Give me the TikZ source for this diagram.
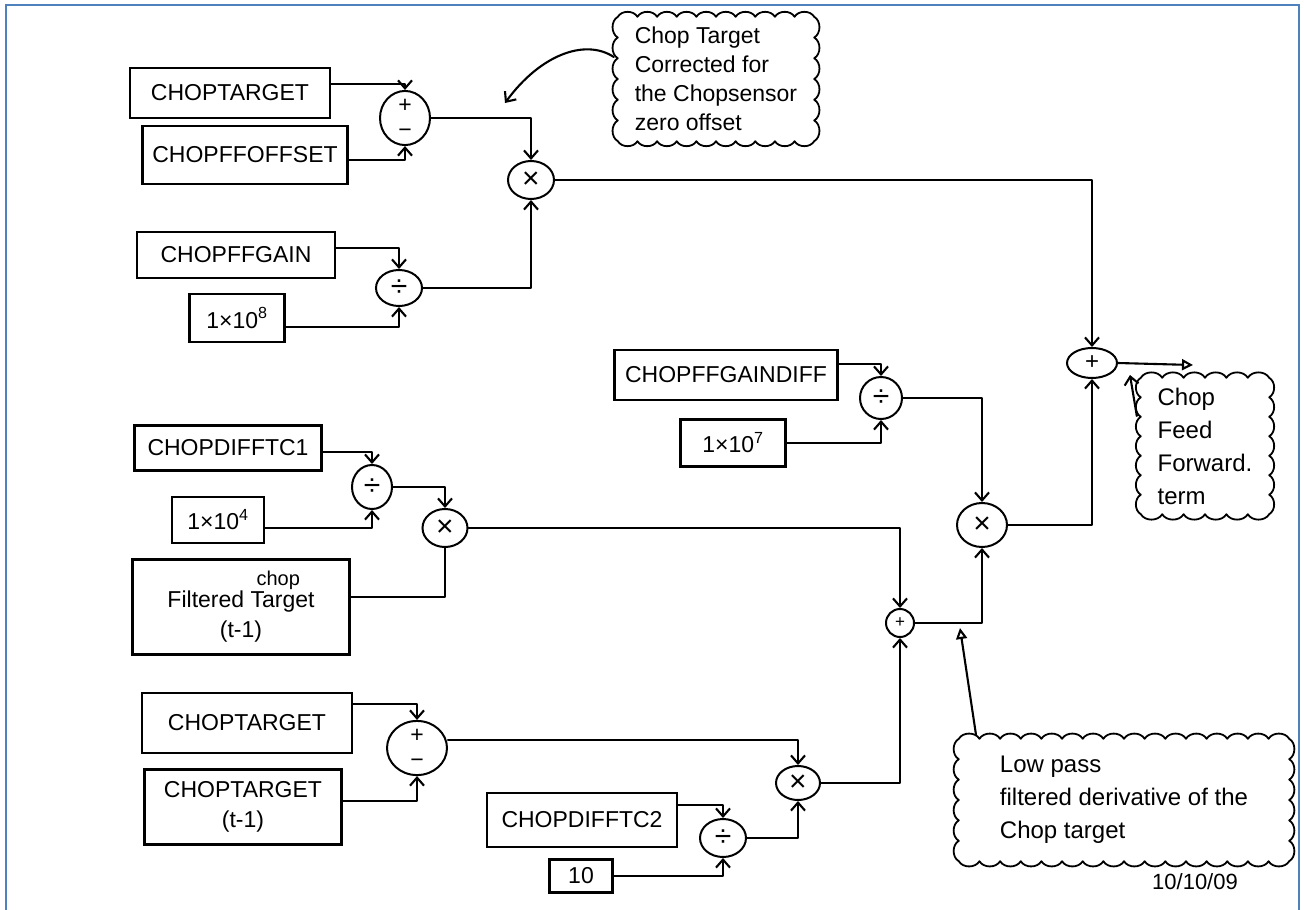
\documentclass[tikz,border=0pt]{standalone}
\usepackage{fontspec}
\setmainfont{Liberation Sans}
\usetikzlibrary{shapes.geometric,arrows.meta,calc}
\definecolor{borderblue}{RGB}{79,129,189}

% scalloped outline round a rectangular note node: #1 node, #2 bumps across, #3 bumps down
\newcommand\notecloud[3]{%
  \draw[noteline] (#1.north west)
    foreach \i in {1,...,#2} { to[bend left=60] ($(#1.north west)!\i/#2!(#1.north east)$) }
    foreach \i in {1,...,#3} { to[bend left=60] ($(#1.north east)!\i/#3!(#1.south east)$) }
    foreach \i in {1,...,#2} { to[bend left=60] ($(#1.south east)!\i/#2!(#1.south west)$) }
    foreach \i in {1,...,#3} { to[bend left=60] ($(#1.south west)!\i/#3!(#1.north west)$) };
}

\begin{document}
\begin{tikzpicture}[x=1pt,y=-1pt,
  wire/.style={line width=2.1pt, black, line cap=round, line join=round},
  feed/.style={wire, -{Straight Barb[length=8pt,width=14pt]}},
  pointer/.style={wire, -{Triangle[open,length=11pt,width=11pt]}},
  varbox/.style={draw, line width=2.1pt, rectangle, inner sep=2pt, align=center,
    font=\fontsize{23}{30}\selectfont},
  op/.style={draw, line width=2pt, ellipse, inner sep=0pt, align=center,
    font=\fontsize{30}{30}\selectfont},
  pm/.style={op, font=\fontsize{23}{25}\selectfont},
  note/.style={rectangle, inner sep=4pt, align=left},
  noteline/.style={line width=1.8pt, line join=round},
]
\useasboundingbox (0,0) rectangle (1304,910);

% frame
\draw[line width=2.8pt, borderblue] (6,915) -- (6,5) -- (1299,5) -- (1299,915);

% ---- feed-forward gain branch ----
\node[varbox, minimum width=200pt, minimum height=50pt] (ct1)  at (230,93)  {CHOPTARGET};
\node[varbox, minimum width=205pt, minimum height=58pt] (cffo) at (245,155) {CHOPFFOFFSET};
\node[pm, minimum width=50pt, minimum height=48pt] (s1) at (405,118) {+\\−};
\node[op, minimum width=46pt, minimum height=38pt] (m1) at (531,180) {×};

\node[varbox, minimum width=198pt, minimum height=46pt] (cffg) at (236,255) {CHOPFFGAIN};
\node[varbox, minimum width=95pt,  minimum height=48pt] (e8)   at (237,318) {1×10\textsuperscript{8}};
\node[op, minimum width=46pt, minimum height=36pt] (d1) at (399,288) {÷};

% ---- output sum ----
\node[op, minimum width=50pt, minimum height=30pt, font=\fontsize{24}{24}\selectfont] (ctr) at (1092,363) {+};

% ---- derivative gain branch ----
\node[varbox, minimum width=223pt, minimum height=50pt] (cffgd) at (726,375) {CHOPFFGAINDIFF};
\node[varbox, minimum width=105pt, minimum height=47pt] (e7)    at (733,443) {1×10\textsuperscript{7}};
\node[op, minimum width=42pt, minimum height=42pt] (d2) at (881,398) {÷};
\node[op, minimum width=50pt, minimum height=44pt] (m2) at (982,525) {×};
\node[op, circle, minimum size=28pt, font=\fontsize{17}{17}\selectfont] (s3) at (900,623) {+};

% ---- filter state branch ----
\node[varbox, minimum width=187pt, minimum height=45pt] (cdtc1) at (228,448) {CHOPDIFFTC1};
\node[varbox, minimum width=92pt,  minimum height=46pt] (e4)    at (218,520) {1×10\textsuperscript{4}};
\node[op, minimum width=40pt, minimum height=44pt] (d3) at (372,487) {÷};
\node[op, minimum width=45pt, minimum height=38pt] (m3) at (445,528) {×};
\node[varbox, minimum width=217pt, minimum height=95pt] (fct) at (241,607)
  {Filtered \rlap{\raisebox{0.95em}{\fontsize{20}{20}\selectfont\hspace{0.3em}chop}}Target\\(t-1)};

% ---- target difference branch ----
\node[varbox, minimum width=210pt, minimum height=60pt] (ct2)  at (247,723) {CHOPTARGET};
\node[varbox, minimum width=197pt, minimum height=75pt] (ctm1) at (243,807) {CHOPTARGET\\(t-1)};
\node[pm, minimum width=60pt, minimum height=53pt] (s2) at (417,748) {+\\−};
\node[op, minimum width=44pt, minimum height=34pt] (m4) at (798,783) {×};
\node[varbox, minimum width=190pt, minimum height=54pt] (cdtc2) at (582,820) {CHOPDIFFTC2};
\node[varbox, minimum width=63pt,  minimum height=33pt] (ten)   at (581,876) {10};
\node[op, minimum width=46pt, minimum height=38pt] (d4) at (723,838) {÷};

% ---- notes ----
\node[note, minimum width=196pt, minimum height=124pt, font=\fontsize{23}{29}\selectfont]
  (cl1) at (716,79) {Chop Target\\Corrected for\\the Chopsensor\\zero offset};
\notecloud{cl1}{10}{6}
\node[note, minimum width=128pt, minimum height=136pt, font=\fontsize{24}{33}\selectfont]
  (cl3) at (1205,446) {Chop\\Feed\\Forward.\\term};
\notecloud{cl3}{6}{7}
\node[note, minimum width=330pt, minimum height=122pt, font=\fontsize{24}{33}\selectfont]
  (cl2) at (1124,800) {Low pass\\filtered derivative of the\\Chop target};
\notecloud{cl2}{16}{6}

\node[font=\fontsize{22}{22}\selectfont] (date) at (1195,882) {10/10/09};

% ---- connections ----
\draw[feed] ([yshift=9pt]ct1.east)   -| (s1.north);
\draw[feed] ([yshift=-5pt]cffo.east) -| (s1.south);
\draw[feed] (s1.east) -| (m1.north);
\draw[feed] ([yshift=7pt]cffg.east)  -| (d1.north);
\draw[feed] ([yshift=-9pt]e8.east)   -| (d1.south);
\draw[feed] (d1.east) -| (m1.south);
\draw[feed] (m1.east) -| (ctr.north);

\draw[feed] ([yshift=11pt]cffgd.east) -| (d2.north);
\draw[feed] (e7.east) -| (d2.south);
\draw[feed] (d2.east) -| (m2.north);
\draw[feed] (m2.east) -| (ctr.south);

\draw[feed] ([yshift=-4pt]cdtc1.east) -| (d3.north);
\draw[feed] ([yshift=-8pt]e4.east)    -| (d3.south);
\draw[feed] (d3.east) -| (m3.north);
\draw[wire] ([yshift=10pt]fct.east)   -| (m3.south);
\draw[feed] (m3.east) -| (s3.north);

\draw[feed] ([yshift=19pt]ct2.east)  -| (s2.north);
\draw[feed] ([yshift=6pt]ctm1.east)  -| (s2.south);
\draw[feed] ([yshift=8pt]s2.east)    -| (m4.north);
\draw[feed] ([yshift=15pt]cdtc2.east) -| (d4.north);
\draw[feed] (ten.east) -| (d4.south);
\draw[feed] (d4.east)  -| (m4.south);
\draw[feed] (m4.east)  -| (s3.south);
\draw[feed] (s3.east)  -| (m2.south);

% output and note pointers
\coordinate (ffout) at (1193,365);
\draw[pointer] (ctr.east) -- (ffout);
\coordinate (p1) at (505,103);
\draw[feed] ([xshift=-4pt,yshift=22pt]cl1.west) .. controls (585,38) and (540,55) .. (p1);
\coordinate (p2) at (1130,375);
\draw[feed] ([xshift=-4pt,yshift=30pt]cl3.west) -- (p2);
\coordinate (p3) at (960,628);
\draw[pointer] ([xshift=-148pt,yshift=4pt]cl2.north) -- (p3);
\end{tikzpicture}
\end{document}
